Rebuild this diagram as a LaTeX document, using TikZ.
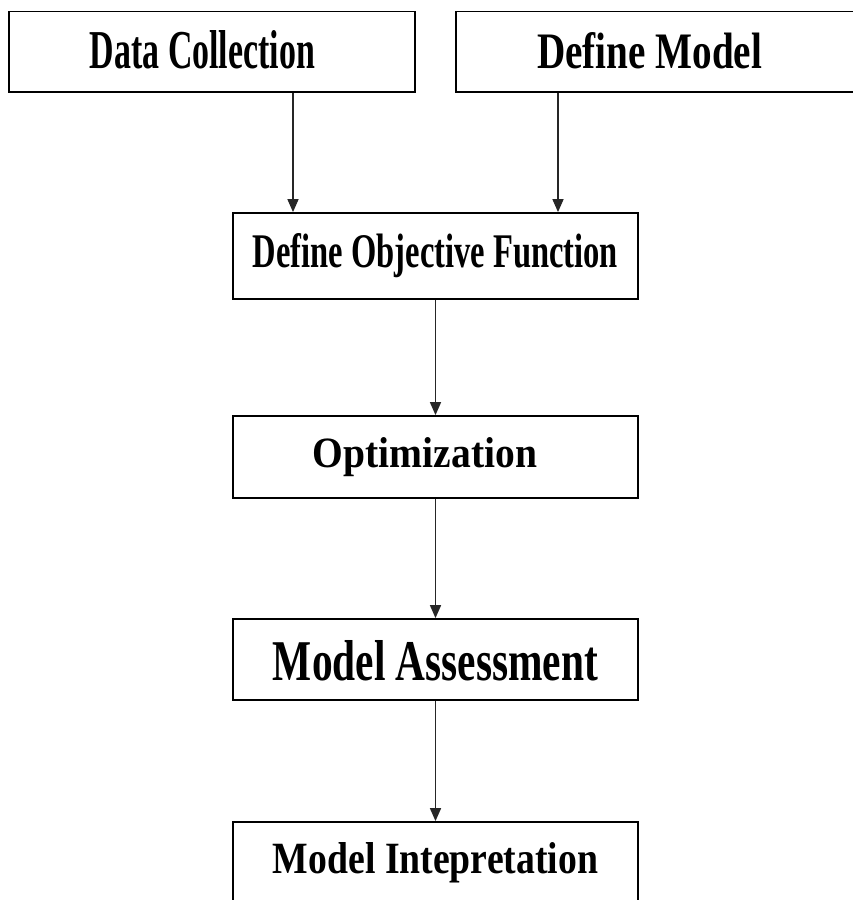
\documentclass[tikz,border=0pt]{standalone}
\usepackage{fontspec}
\setmainfont{Liberation Serif}
\usetikzlibrary{arrows.meta}
\tikzset{
  box/.style={draw=black, line width=1.8pt, fill=none, inner sep=0pt},
  lbl/.style={inner sep=0pt, anchor=base, font=\bfseries},
  arr/.style={draw=black!85, line width=1.6pt, -{Triangle[length=13pt,width=11pt]}},
}
\newcommand{\fitlbl}[3]{\resizebox{#1pt}{#2pt}{#3}}
\begin{document}
\begin{tikzpicture}[x=1pt,y=-1pt]
\useasboundingbox (0,0) rectangle (853,900);
\clip (0,0) rectangle (853,900);
\fill[white] (0,0) rectangle (853,900);
% boxes
\node[box, minimum width=406pt, minimum height=80.5pt] (dc)  at (212,51.75) {};
\node[box, minimum width=404pt, minimum height=80.5pt] (dm)  at (658,51.75) {};
\node[box, minimum width=405pt, minimum height=86pt]   (dof) at (435.5,256) {};
\node[box, minimum width=405pt, minimum height=82pt]   (opt) at (435.5,457) {};
\node[box, minimum width=405pt, minimum height=81pt]   (ma)  at (435.5,659.5) {};
\node[box, minimum width=405pt, minimum height=88pt]   (mi)  at (435.5,866) {};
% labels
\node[lbl] (tdc)  at (202.5,68)  {\fitlbl{225}{38}{Data Collection}};
\node[lbl] (tdm)  at (649.5,68)  {\fitlbl{225}{36}{Define Model}};
\node[lbl] (tdof) at (435.5,267) {\fitlbl{365}{34}{Define Objective Function}};
\node[lbl] (topt) at (425,467)   {\fitlbl{224}{30}{Optimization}};
\node[lbl] (tma)  at (435.5,680) {\fitlbl{325}{40}{Model Assessment}};
\node[lbl] (tmi)  at (435.5,873) {\fitlbl{325}{31}{Model Intepretation}};
% connectors
\draw[arr] (dc.south -| 293,0) -- (dof.north -| 293,0);
\draw[arr] (dm.south -| 558,0) -- (dof.north -| 558,0);
\draw[arr] (dof.south) -- (opt.north);
\draw[arr] (opt.south) -- (ma.north);
\draw[arr] (ma.south) -- (mi.north);
\end{tikzpicture}
\end{document}
